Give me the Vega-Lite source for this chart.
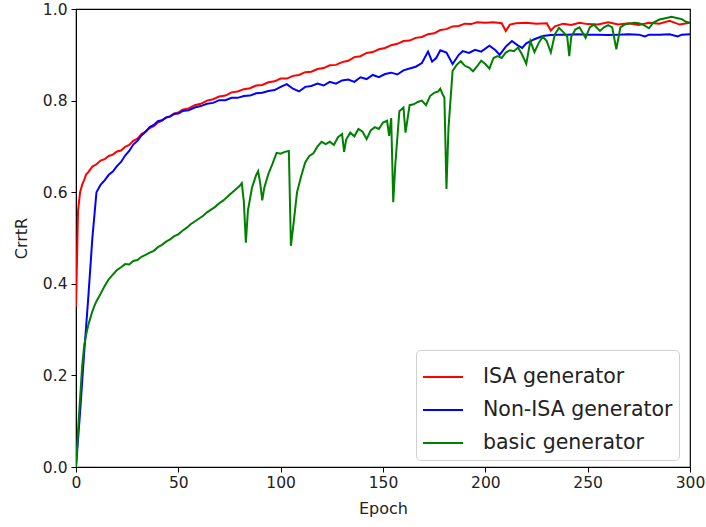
{
  "$schema": "https://vega.github.io/schema/vega-lite/v6.json",
  "width": 614,
  "height": 458,
  "autosize": {"type": "none"},
  "padding": {"left": 76, "top": 9, "right": 16, "bottom": 60},
  "config": {
    "font": "DejaVu Sans",
    "view": {"stroke": "black", "strokeWidth": 1.2},
    "axis": {
      "grid": false,
      "domainColor": "black",
      "tickColor": "black",
      "tickSize": 5,
      "labelColor": "#222",
      "labelFont": "DejaVu Sans",
      "labelFontSize": 15.5,
      "titleFont": "DejaVu Sans",
      "titleFontSize": 16,
      "titleFontWeight": "normal",
      "titleColor": "#222"
    }
  },
  "data": {
    "values": [
      {"e":0,"s":"ISA generator","v":0.35},{"e":1,"s":"ISA generator","v":0.56},{"e":2,"s":"ISA generator","v":0.6},{"e":3,"s":"ISA generator","v":0.616},{"e":4,"s":"ISA generator","v":0.627},{"e":5,"s":"ISA generator","v":0.639},{"e":6,"s":"ISA generator","v":0.644},{"e":8,"s":"ISA generator","v":0.656},{"e":10,"s":"ISA generator","v":0.661},{"e":12,"s":"ISA generator","v":0.669},{"e":14,"s":"ISA generator","v":0.672},{"e":16,"s":"ISA generator","v":0.679},{"e":18,"s":"ISA generator","v":0.682},{"e":20,"s":"ISA generator","v":0.689},{"e":22,"s":"ISA generator","v":0.691},{"e":24,"s":"ISA generator","v":0.699},{"e":26,"s":"ISA generator","v":0.703},{"e":28,"s":"ISA generator","v":0.712},{"e":30,"s":"ISA generator","v":0.717},{"e":32,"s":"ISA generator","v":0.727},{"e":34,"s":"ISA generator","v":0.732},{"e":36,"s":"ISA generator","v":0.74},{"e":38,"s":"ISA generator","v":0.744},{"e":40,"s":"ISA generator","v":0.752},{"e":42,"s":"ISA generator","v":0.756},{"e":44,"s":"ISA generator","v":0.763},{"e":46,"s":"ISA generator","v":0.766},{"e":48,"s":"ISA generator","v":0.772},{"e":50,"s":"ISA generator","v":0.774},{"e":52,"s":"ISA generator","v":0.78},{"e":55,"s":"ISA generator","v":0.783},{"e":58,"s":"ISA generator","v":0.79},{"e":61,"s":"ISA generator","v":0.793},{"e":64,"s":"ISA generator","v":0.8},{"e":67,"s":"ISA generator","v":0.803},{"e":70,"s":"ISA generator","v":0.809},{"e":73,"s":"ISA generator","v":0.811},{"e":76,"s":"ISA generator","v":0.818},{"e":79,"s":"ISA generator","v":0.82},{"e":82,"s":"ISA generator","v":0.825},{"e":85,"s":"ISA generator","v":0.827},{"e":88,"s":"ISA generator","v":0.833},{"e":91,"s":"ISA generator","v":0.834},{"e":94,"s":"ISA generator","v":0.84},{"e":97,"s":"ISA generator","v":0.842},{"e":100,"s":"ISA generator","v":0.848},{"e":103,"s":"ISA generator","v":0.848},{"e":106,"s":"ISA generator","v":0.854},{"e":109,"s":"ISA generator","v":0.856},{"e":112,"s":"ISA generator","v":0.862},{"e":115,"s":"ISA generator","v":0.863},{"e":118,"s":"ISA generator","v":0.869},{"e":121,"s":"ISA generator","v":0.871},{"e":124,"s":"ISA generator","v":0.877},{"e":127,"s":"ISA generator","v":0.878},{"e":130,"s":"ISA generator","v":0.884},{"e":133,"s":"ISA generator","v":0.887},{"e":136,"s":"ISA generator","v":0.895},{"e":139,"s":"ISA generator","v":0.897},{"e":142,"s":"ISA generator","v":0.904},{"e":145,"s":"ISA generator","v":0.906},{"e":148,"s":"ISA generator","v":0.912},{"e":151,"s":"ISA generator","v":0.915},{"e":154,"s":"ISA generator","v":0.921},{"e":157,"s":"ISA generator","v":0.924},{"e":160,"s":"ISA generator","v":0.93},{"e":163,"s":"ISA generator","v":0.931},{"e":166,"s":"ISA generator","v":0.937},{"e":169,"s":"ISA generator","v":0.939},{"e":172,"s":"ISA generator","v":0.945},{"e":175,"s":"ISA generator","v":0.947},{"e":178,"s":"ISA generator","v":0.954},{"e":181,"s":"ISA generator","v":0.956},{"e":184,"s":"ISA generator","v":0.962},{"e":187,"s":"ISA generator","v":0.963},{"e":190,"s":"ISA generator","v":0.968},{"e":193,"s":"ISA generator","v":0.967},{"e":196,"s":"ISA generator","v":0.971},{"e":200,"s":"ISA generator","v":0.97},{"e":204,"s":"ISA generator","v":0.971},{"e":208,"s":"ISA generator","v":0.969},{"e":210,"s":"ISA generator","v":0.952},{"e":212,"s":"ISA generator","v":0.966},{"e":215,"s":"ISA generator","v":0.969},{"e":220,"s":"ISA generator","v":0.97},{"e":225,"s":"ISA generator","v":0.968},{"e":230,"s":"ISA generator","v":0.969},{"e":232,"s":"ISA generator","v":0.953},{"e":234,"s":"ISA generator","v":0.962},{"e":238,"s":"ISA generator","v":0.968},{"e":242,"s":"ISA generator","v":0.965},{"e":246,"s":"ISA generator","v":0.97},{"e":250,"s":"ISA generator","v":0.967},{"e":255,"s":"ISA generator","v":0.966},{"e":260,"s":"ISA generator","v":0.971},{"e":265,"s":"ISA generator","v":0.966},{"e":270,"s":"ISA generator","v":0.969},{"e":275,"s":"ISA generator","v":0.965},{"e":280,"s":"ISA generator","v":0.97},{"e":285,"s":"ISA generator","v":0.968},{"e":290,"s":"ISA generator","v":0.974},{"e":295,"s":"ISA generator","v":0.966},{"e":300,"s":"ISA generator","v":0.97},

      {"e":0,"s":"Non-ISA generator","v":0.0},{"e":2,"s":"Non-ISA generator","v":0.12},{"e":4,"s":"Non-ISA generator","v":0.25},{"e":6,"s":"Non-ISA generator","v":0.37},{"e":8,"s":"Non-ISA generator","v":0.5},{"e":10,"s":"Non-ISA generator","v":0.6},{"e":12,"s":"Non-ISA generator","v":0.616},{"e":14,"s":"Non-ISA generator","v":0.626},{"e":16,"s":"Non-ISA generator","v":0.638},{"e":18,"s":"Non-ISA generator","v":0.645},{"e":20,"s":"Non-ISA generator","v":0.657},{"e":22,"s":"Non-ISA generator","v":0.666},{"e":24,"s":"Non-ISA generator","v":0.68},{"e":26,"s":"Non-ISA generator","v":0.69},{"e":28,"s":"Non-ISA generator","v":0.704},{"e":30,"s":"Non-ISA generator","v":0.712},{"e":32,"s":"Non-ISA generator","v":0.724},{"e":34,"s":"Non-ISA generator","v":0.732},{"e":36,"s":"Non-ISA generator","v":0.742},{"e":38,"s":"Non-ISA generator","v":0.747},{"e":40,"s":"Non-ISA generator","v":0.755},{"e":42,"s":"Non-ISA generator","v":0.757},{"e":44,"s":"Non-ISA generator","v":0.763},{"e":46,"s":"Non-ISA generator","v":0.765},{"e":48,"s":"Non-ISA generator","v":0.771},{"e":50,"s":"Non-ISA generator","v":0.772},{"e":52,"s":"Non-ISA generator","v":0.777},{"e":55,"s":"Non-ISA generator","v":0.779},{"e":58,"s":"Non-ISA generator","v":0.785},{"e":61,"s":"Non-ISA generator","v":0.788},{"e":64,"s":"Non-ISA generator","v":0.793},{"e":67,"s":"Non-ISA generator","v":0.795},{"e":70,"s":"Non-ISA generator","v":0.801},{"e":73,"s":"Non-ISA generator","v":0.801},{"e":76,"s":"Non-ISA generator","v":0.806},{"e":79,"s":"Non-ISA generator","v":0.806},{"e":82,"s":"Non-ISA generator","v":0.81},{"e":85,"s":"Non-ISA generator","v":0.811},{"e":88,"s":"Non-ISA generator","v":0.816},{"e":91,"s":"Non-ISA generator","v":0.817},{"e":94,"s":"Non-ISA generator","v":0.821},{"e":97,"s":"Non-ISA generator","v":0.823},{"e":100,"s":"Non-ISA generator","v":0.83},{"e":103,"s":"Non-ISA generator","v":0.836},{"e":106,"s":"Non-ISA generator","v":0.826},{"e":109,"s":"Non-ISA generator","v":0.82},{"e":112,"s":"Non-ISA generator","v":0.83},{"e":115,"s":"Non-ISA generator","v":0.832},{"e":118,"s":"Non-ISA generator","v":0.837},{"e":121,"s":"Non-ISA generator","v":0.833},{"e":124,"s":"Non-ISA generator","v":0.841},{"e":127,"s":"Non-ISA generator","v":0.837},{"e":130,"s":"Non-ISA generator","v":0.844},{"e":133,"s":"Non-ISA generator","v":0.846},{"e":136,"s":"Non-ISA generator","v":0.841},{"e":139,"s":"Non-ISA generator","v":0.851},{"e":142,"s":"Non-ISA generator","v":0.847},{"e":145,"s":"Non-ISA generator","v":0.856},{"e":148,"s":"Non-ISA generator","v":0.851},{"e":151,"s":"Non-ISA generator","v":0.858},{"e":154,"s":"Non-ISA generator","v":0.861},{"e":157,"s":"Non-ISA generator","v":0.857},{"e":160,"s":"Non-ISA generator","v":0.866},{"e":163,"s":"Non-ISA generator","v":0.87},{"e":166,"s":"Non-ISA generator","v":0.874},{"e":169,"s":"Non-ISA generator","v":0.882},{"e":172,"s":"Non-ISA generator","v":0.907},{"e":174,"s":"Non-ISA generator","v":0.885},{"e":176,"s":"Non-ISA generator","v":0.893},{"e":178,"s":"Non-ISA generator","v":0.91},{"e":181,"s":"Non-ISA generator","v":0.905},{"e":184,"s":"Non-ISA generator","v":0.88},{"e":187,"s":"Non-ISA generator","v":0.9},{"e":189,"s":"Non-ISA generator","v":0.908},{"e":192,"s":"Non-ISA generator","v":0.904},{"e":195,"s":"Non-ISA generator","v":0.911},{"e":198,"s":"Non-ISA generator","v":0.907},{"e":202,"s":"Non-ISA generator","v":0.92},{"e":205,"s":"Non-ISA generator","v":0.91},{"e":207,"s":"Non-ISA generator","v":0.9},{"e":210,"s":"Non-ISA generator","v":0.918},{"e":213,"s":"Non-ISA generator","v":0.93},{"e":216,"s":"Non-ISA generator","v":0.92},{"e":218,"s":"Non-ISA generator","v":0.915},{"e":220,"s":"Non-ISA generator","v":0.925},{"e":224,"s":"Non-ISA generator","v":0.934},{"e":228,"s":"Non-ISA generator","v":0.941},{"e":232,"s":"Non-ISA generator","v":0.943},{"e":236,"s":"Non-ISA generator","v":0.944},{"e":240,"s":"Non-ISA generator","v":0.944},{"e":245,"s":"Non-ISA generator","v":0.945},{"e":250,"s":"Non-ISA generator","v":0.944},{"e":255,"s":"Non-ISA generator","v":0.944},{"e":260,"s":"Non-ISA generator","v":0.943},{"e":265,"s":"Non-ISA generator","v":0.944},{"e":270,"s":"Non-ISA generator","v":0.945},{"e":275,"s":"Non-ISA generator","v":0.944},{"e":278,"s":"Non-ISA generator","v":0.94},{"e":280,"s":"Non-ISA generator","v":0.944},{"e":285,"s":"Non-ISA generator","v":0.944},{"e":290,"s":"Non-ISA generator","v":0.945},{"e":294,"s":"Non-ISA generator","v":0.94},{"e":296,"s":"Non-ISA generator","v":0.944},{"e":300,"s":"Non-ISA generator","v":0.945},

      {"e":0,"s":"basic generator","v":0.0},{"e":1,"s":"basic generator","v":0.08},{"e":2,"s":"basic generator","v":0.15},{"e":3,"s":"basic generator","v":0.22},{"e":4,"s":"basic generator","v":0.265},{"e":5,"s":"basic generator","v":0.29},{"e":6,"s":"basic generator","v":0.31},{"e":7,"s":"basic generator","v":0.325},{"e":8,"s":"basic generator","v":0.34},{"e":9,"s":"basic generator","v":0.352},{"e":10,"s":"basic generator","v":0.362},{"e":12,"s":"basic generator","v":0.378},{"e":14,"s":"basic generator","v":0.395},{"e":16,"s":"basic generator","v":0.41},{"e":18,"s":"basic generator","v":0.42},{"e":20,"s":"basic generator","v":0.43},{"e":22,"s":"basic generator","v":0.436},{"e":24,"s":"basic generator","v":0.443},{"e":26,"s":"basic generator","v":0.442},{"e":28,"s":"basic generator","v":0.45},{"e":30,"s":"basic generator","v":0.452},{"e":32,"s":"basic generator","v":0.459},{"e":34,"s":"basic generator","v":0.463},{"e":36,"s":"basic generator","v":0.468},{"e":38,"s":"basic generator","v":0.472},{"e":40,"s":"basic generator","v":0.48},{"e":42,"s":"basic generator","v":0.485},{"e":44,"s":"basic generator","v":0.492},{"e":46,"s":"basic generator","v":0.497},{"e":48,"s":"basic generator","v":0.504},{"e":50,"s":"basic generator","v":0.508},{"e":52,"s":"basic generator","v":0.516},{"e":54,"s":"basic generator","v":0.522},{"e":56,"s":"basic generator","v":0.53},{"e":58,"s":"basic generator","v":0.536},{"e":60,"s":"basic generator","v":0.542},{"e":62,"s":"basic generator","v":0.548},{"e":64,"s":"basic generator","v":0.556},{"e":66,"s":"basic generator","v":0.562},{"e":68,"s":"basic generator","v":0.568},{"e":70,"s":"basic generator","v":0.576},{"e":72,"s":"basic generator","v":0.582},{"e":74,"s":"basic generator","v":0.59},{"e":76,"s":"basic generator","v":0.598},{"e":78,"s":"basic generator","v":0.606},{"e":80,"s":"basic generator","v":0.614},{"e":81,"s":"basic generator","v":0.62},{"e":82,"s":"basic generator","v":0.58},{"e":83,"s":"basic generator","v":0.49},{"e":84,"s":"basic generator","v":0.56},{"e":86,"s":"basic generator","v":0.61},{"e":88,"s":"basic generator","v":0.637},{"e":89,"s":"basic generator","v":0.646},{"e":90,"s":"basic generator","v":0.62},{"e":91,"s":"basic generator","v":0.582},{"e":92,"s":"basic generator","v":0.61},{"e":94,"s":"basic generator","v":0.64},{"e":96,"s":"basic generator","v":0.662},{"e":98,"s":"basic generator","v":0.686},{"e":100,"s":"basic generator","v":0.684},{"e":102,"s":"basic generator","v":0.688},{"e":104,"s":"basic generator","v":0.69},{"e":105,"s":"basic generator","v":0.483},{"e":106,"s":"basic generator","v":0.52},{"e":108,"s":"basic generator","v":0.6},{"e":110,"s":"basic generator","v":0.635},{"e":112,"s":"basic generator","v":0.665},{"e":114,"s":"basic generator","v":0.679},{"e":116,"s":"basic generator","v":0.685},{"e":118,"s":"basic generator","v":0.7},{"e":120,"s":"basic generator","v":0.71},{"e":122,"s":"basic generator","v":0.705},{"e":124,"s":"basic generator","v":0.71},{"e":126,"s":"basic generator","v":0.703},{"e":128,"s":"basic generator","v":0.72},{"e":130,"s":"basic generator","v":0.727},{"e":131,"s":"basic generator","v":0.688},{"e":132,"s":"basic generator","v":0.715},{"e":134,"s":"basic generator","v":0.73},{"e":136,"s":"basic generator","v":0.722},{"e":138,"s":"basic generator","v":0.738},{"e":140,"s":"basic generator","v":0.732},{"e":142,"s":"basic generator","v":0.716},{"e":144,"s":"basic generator","v":0.735},{"e":146,"s":"basic generator","v":0.742},{"e":148,"s":"basic generator","v":0.738},{"e":150,"s":"basic generator","v":0.752},{"e":152,"s":"basic generator","v":0.756},{"e":153,"s":"basic generator","v":0.723},{"e":154,"s":"basic generator","v":0.762},{"e":155,"s":"basic generator","v":0.578},{"e":156,"s":"basic generator","v":0.66},{"e":158,"s":"basic generator","v":0.777},{"e":160,"s":"basic generator","v":0.785},{"e":161,"s":"basic generator","v":0.73},{"e":163,"s":"basic generator","v":0.79},{"e":165,"s":"basic generator","v":0.792},{"e":167,"s":"basic generator","v":0.797},{"e":169,"s":"basic generator","v":0.8},{"e":171,"s":"basic generator","v":0.79},{"e":173,"s":"basic generator","v":0.81},{"e":175,"s":"basic generator","v":0.817},{"e":177,"s":"basic generator","v":0.82},{"e":178,"s":"basic generator","v":0.826},{"e":179,"s":"basic generator","v":0.815},{"e":180,"s":"basic generator","v":0.806},{"e":181,"s":"basic generator","v":0.607},{"e":182,"s":"basic generator","v":0.74},{"e":184,"s":"basic generator","v":0.865},{"e":186,"s":"basic generator","v":0.878},{"e":188,"s":"basic generator","v":0.886},{"e":190,"s":"basic generator","v":0.876},{"e":192,"s":"basic generator","v":0.872},{"e":194,"s":"basic generator","v":0.864},{"e":196,"s":"basic generator","v":0.875},{"e":198,"s":"basic generator","v":0.887},{"e":200,"s":"basic generator","v":0.88},{"e":202,"s":"basic generator","v":0.87},{"e":204,"s":"basic generator","v":0.893},{"e":206,"s":"basic generator","v":0.897},{"e":208,"s":"basic generator","v":0.893},{"e":210,"s":"basic generator","v":0.905},{"e":212,"s":"basic generator","v":0.91},{"e":214,"s":"basic generator","v":0.908},{"e":216,"s":"basic generator","v":0.916},{"e":218,"s":"basic generator","v":0.9},{"e":220,"s":"basic generator","v":0.88},{"e":222,"s":"basic generator","v":0.93},{"e":224,"s":"basic generator","v":0.906},{"e":226,"s":"basic generator","v":0.925},{"e":228,"s":"basic generator","v":0.94},{"e":230,"s":"basic generator","v":0.93},{"e":232,"s":"basic generator","v":0.905},{"e":234,"s":"basic generator","v":0.945},{"e":236,"s":"basic generator","v":0.959},{"e":238,"s":"basic generator","v":0.95},{"e":240,"s":"basic generator","v":0.94},{"e":241,"s":"basic generator","v":0.897},{"e":242,"s":"basic generator","v":0.94},{"e":244,"s":"basic generator","v":0.955},{"e":246,"s":"basic generator","v":0.96},{"e":249,"s":"basic generator","v":0.937},{"e":251,"s":"basic generator","v":0.96},{"e":253,"s":"basic generator","v":0.966},{"e":256,"s":"basic generator","v":0.952},{"e":258,"s":"basic generator","v":0.96},{"e":260,"s":"basic generator","v":0.965},{"e":262,"s":"basic generator","v":0.96},{"e":264,"s":"basic generator","v":0.912},{"e":266,"s":"basic generator","v":0.96},{"e":268,"s":"basic generator","v":0.966},{"e":270,"s":"basic generator","v":0.968},{"e":273,"s":"basic generator","v":0.97},{"e":275,"s":"basic generator","v":0.969},{"e":277,"s":"basic generator","v":0.966},{"e":280,"s":"basic generator","v":0.958},{"e":282,"s":"basic generator","v":0.97},{"e":285,"s":"basic generator","v":0.977},{"e":288,"s":"basic generator","v":0.98},{"e":291,"s":"basic generator","v":0.983},{"e":294,"s":"basic generator","v":0.98},{"e":296,"s":"basic generator","v":0.978},{"e":298,"s":"basic generator","v":0.972},{"e":300,"s":"basic generator","v":0.97}
    ]
  },
  "mark": {"type": "line", "strokeWidth": 2, "clip": true},
  "encoding": {
    "x": {
      "field": "e", "type": "quantitative",
      "scale": {"domain": [0, 300], "nice": false, "zero": false},
      "axis": {"values": [0, 50, 100, 150, 200, 250, 300], "title": "Epoch", "labelPadding": 3, "titlePadding": 10, "labelFlush": false}
    },
    "y": {
      "field": "v", "type": "quantitative",
      "scale": {"domain": [0, 1], "nice": false},
      "axis": {"values": [0, 0.2, 0.4, 0.6, 0.8, 1.0], "format": ".1f", "title": "CrrtR", "labelPadding": 4, "titlePadding": 13, "labelFlush": false}
    },
    "color": {
      "field": "s", "type": "nominal",
      "scale": {"domain": ["ISA generator", "Non-ISA generator", "basic generator"], "range": ["#ff0000", "#0000ff", "#008000"]},
      "legend": {
        "title": null,
        "orient": "none",
        "legendX": 340,
        "legendY": 341,
        "symbolType": "stroke",
        "symbolSize": 1600,
        "symbolStrokeWidth": 2,
        "labelFontSize": 20.5,
        "labelLimit": 400,
        "labelColor": "#222",
        "labelOffset": 19,
        "rowPadding": 1,
        "padding": 6,
        "fillColor": "white",
        "strokeColor": "#d0d0d0",
        "cornerRadius": 4
      }
    }
  }
}
